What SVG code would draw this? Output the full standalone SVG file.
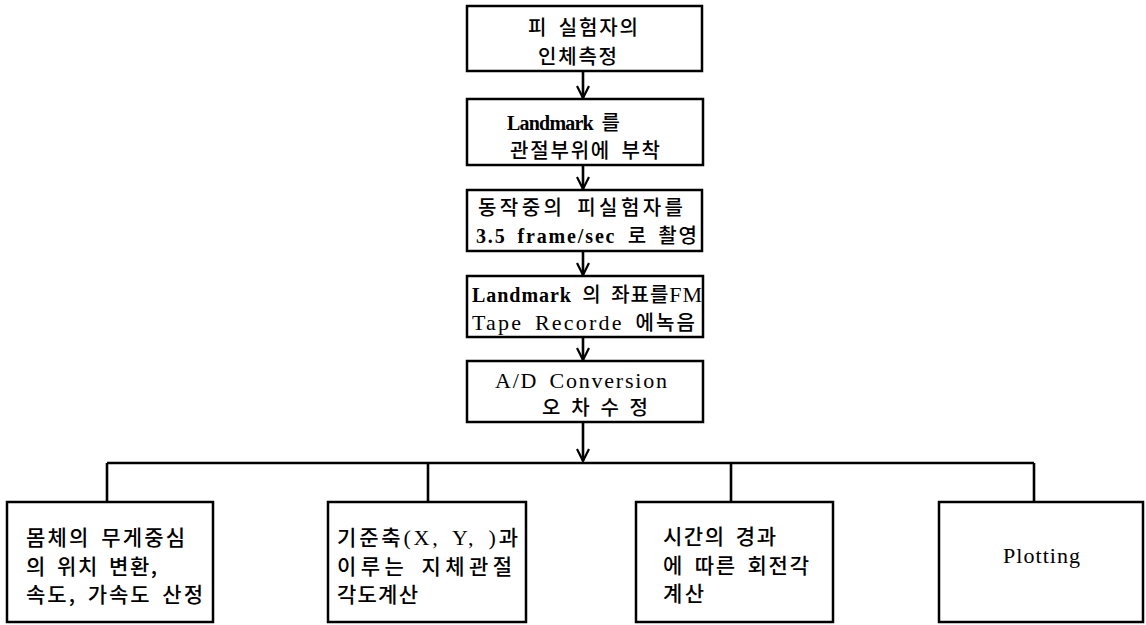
<svg xmlns="http://www.w3.org/2000/svg" width="1146" height="625" viewBox="0 0 1146 625">
<style>
.box{fill:#fff;stroke:#000;stroke-width:2.5}
.t{font-family:"Liberation Serif","Noto Sans CJK KR",serif;font-size:22px;fill:#000;word-spacing:4px}
.k{font-family:"Noto Sans CJK KR","Liberation Serif",sans-serif;font-weight:500;font-size:20px}
.lg .k,.lg.k{font-size:21px}
.b{font-weight:bold;font-size:20px}
.c{fill:none;stroke:#000;stroke-width:2.6}
</style>
<defs>
<marker id="ah" markerWidth="14" markerHeight="14" refX="13" refY="7" orient="auto" markerUnits="userSpaceOnUse" viewBox="0 0 14 14">
<path d="M1,1 L13,7 L1,13" fill="none" stroke="#000" stroke-width="2.2"/>
</marker>
</defs>
<rect width="1146" height="625" fill="#fff"/>
<g id="connectors">
<line class="c" x1="583" y1="71" x2="583" y2="98" marker-end="url(#ah)"/>
<line class="c" x1="583" y1="165" x2="583" y2="189" marker-end="url(#ah)"/>
<line class="c" x1="583" y1="251" x2="583" y2="275" marker-end="url(#ah)"/>
<line class="c" x1="583" y1="337" x2="583" y2="360" marker-end="url(#ah)"/>
<line class="c" x1="583" y1="422" x2="583" y2="461" marker-end="url(#ah)"/>
<line class="c" x1="107" y1="463" x2="1034" y2="463"/>
<line class="c" x1="107" y1="463" x2="107" y2="502"/>
<line class="c" x1="428" y1="463" x2="428" y2="502"/>
<line class="c" x1="731" y1="463" x2="731" y2="502"/>
<line class="c" x1="1034" y1="463" x2="1034" y2="502"/>
</g>
<g id="n1">
<rect class="box" x="467" y="6" width="235" height="65"/>
<text class="t k" x="528" y="35" textLength="110" lengthAdjust="spacing">피 실험자의</text>
<text class="t k" x="538" y="64" textLength="79" lengthAdjust="spacing">인체측정</text>
</g>
<g id="n2">
<rect class="box" x="467" y="99" width="236" height="66"/>
<text class="t" x="507" y="130" textLength="113" lengthAdjust="spacing"><tspan class="b">Landmark</tspan> <tspan class="k">를</tspan></text>
<text class="t k" x="510" y="158" textLength="150" lengthAdjust="spacing">관절부위에 부착</text>
</g>
<g id="n3">
<rect class="box" x="467" y="190" width="235" height="61"/>
<text class="t k" x="478" y="215" textLength="205" lengthAdjust="spacing">동작중의 피실험자를</text>
<text class="t" x="476" y="243" textLength="221" lengthAdjust="spacing"><tspan class="b">3.5 frame/sec</tspan> <tspan class="k">로 촬영</tspan></text>
</g>
<g id="n4">
<rect class="box" x="467" y="276" width="236" height="61"/>
<text class="t" x="472" y="302" textLength="230" lengthAdjust="spacing"><tspan class="b">Landmark</tspan> <tspan class="k">의 좌표를</tspan><tspan>FM</tspan></text>
<text class="t" x="472" y="330" textLength="223" lengthAdjust="spacing">Tape Recorde <tspan class="k">에녹음</tspan></text>
</g>
<g id="n5">
<rect class="box" x="467" y="361" width="236" height="61"/>
<text class="t" x="495" y="388" textLength="172" lengthAdjust="spacing">A/D Conversion</text>
<text class="t k" x="542" y="415" textLength="106" lengthAdjust="spacing">오 차 수 정</text>
</g>
<g id="n6" class="lg">
<rect class="box" x="7" y="502" width="206" height="120"/>
<text class="t k" x="26" y="545" textLength="159" lengthAdjust="spacing">몸체의 무게중심</text>
<text class="t k" x="26" y="574" textLength="131" lengthAdjust="spacing">의 위치 변환,</text>
<text class="t k" x="26" y="602" textLength="177" lengthAdjust="spacing">속도, 가속도 산정</text>
</g>
<g id="n7" class="lg">
<rect class="box" x="328" y="502" width="198" height="120"/>
<text class="t" x="337" y="545" textLength="181" lengthAdjust="spacing"><tspan class="k">기준축</tspan>(X, Y, )<tspan class="k">과</tspan></text>
<text class="t k" x="337" y="574" textLength="175" lengthAdjust="spacing">이루는 지체관절</text>
<text class="t k" x="337" y="602" textLength="81" lengthAdjust="spacing">각도계산</text>
</g>
<g id="n8" class="lg">
<rect class="box" x="636" y="502" width="197" height="120"/>
<text class="t k" x="663" y="544" textLength="113" lengthAdjust="spacing">시간의 경과</text>
<text class="t k" x="663" y="573" textLength="146" lengthAdjust="spacing">에 따른 회전각</text>
<text class="t k" x="663" y="601" textLength="41" lengthAdjust="spacing">계산</text>
</g>
<g id="n9">
<rect class="box" x="939" y="502" width="204" height="120"/>
<text class="t" x="1003" y="563" textLength="77" lengthAdjust="spacing">Plotting</text>
</g>
</svg>
